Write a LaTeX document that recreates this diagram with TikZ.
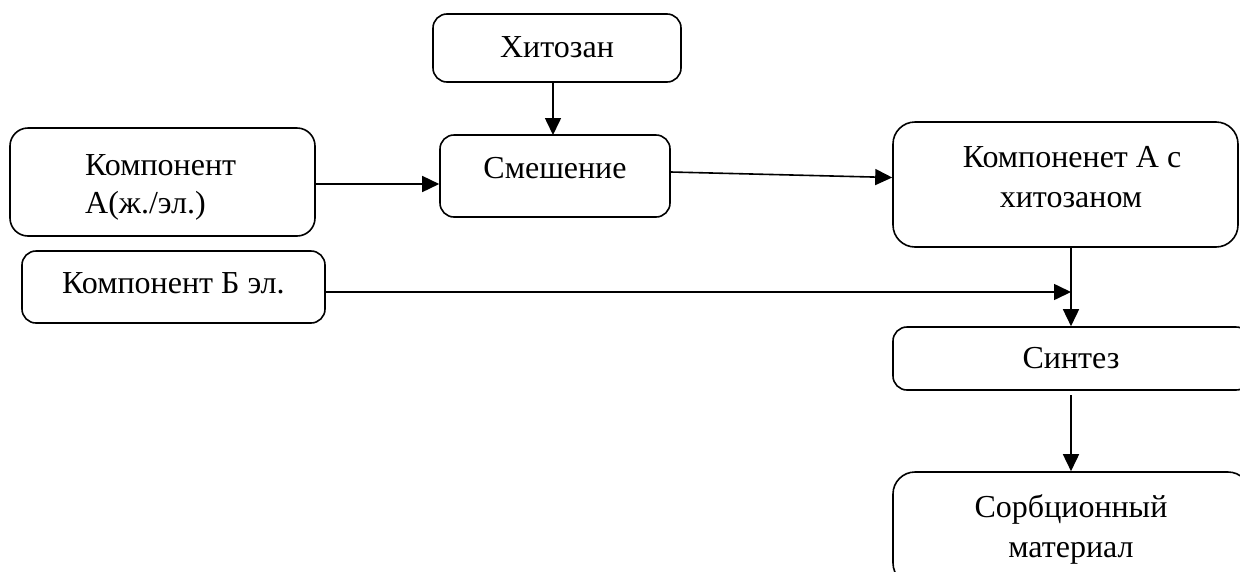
\documentclass[tikz,border=0pt]{standalone}
\usepackage{fontspec}
\setmainfont{Liberation Serif}
\usetikzlibrary{arrows.meta,calc}
\tikzset{
  box/.style={draw, line width=1.6pt, rounded corners=14pt, inner sep=0pt},
  bigbox/.style={box, rounded corners=22pt},
  txt/.style={anchor=base, inner sep=0pt, font=\fontsize{32}{38}\selectfont},
  ltxt/.style={anchor=base west, inner sep=0pt, font=\fontsize{32}{38}\selectfont},
  arr/.style={line width=1.6pt, -{Triangle[length=17pt,width=16pt]}},
  ln/.style={line width=1.6pt}
}
\begin{document}
\begin{tikzpicture}[x=1pt,y=-1pt]
\useasboundingbox (0,0) rectangle (1240,571);
\clip (0,0) rectangle (1240,571);
% boxes
\node[box, minimum width=248pt, minimum height=68pt] (hit) at (557,48) {};
\node[box, minimum width=230pt, minimum height=82pt] (smesh) at (555,176) {};
\node[box, rounded corners=18pt, minimum width=305pt, minimum height=108pt] (kA) at (162.5,182) {};
\node[box, minimum width=303pt, minimum height=72pt] (kB) at (173.5,287) {};
\node[bigbox, minimum width=345pt, minimum height=125pt] (kAh) at (1065.5,184.5) {};
\node[box, minimum width=357pt, minimum height=63pt] (sint) at (1071.5,358.5) {};
\node[bigbox, minimum width=357pt, minimum height=113pt] (sorb) at (1071.5,528.5) {};
% texts
\node[txt] (thit) at (557,57) {Хитозан};
\node[txt] (tsmesh) at (555,178) {Смешение};
\node[ltxt] (tkA1) at (85,175) {Компонент};
\node[ltxt] (tkA2) at (85,213) {А(ж./эл.)};
\node[ltxt] (tkB) at (62,293) {Компонент Б эл.};
\node[txt] (tkAh1) at (1072,167) {Компоненет А с};
\node[txt] (tkAh2) at (1071,207) {хитозаном};
\node[txt] (tsint) at (1071,368) {Синтез};
\node[txt] (tsorb1) at (1071,517) {Сорбционный};
\node[txt] (tsorb2) at (1071,557) {материал};
% connector points
\coordinate (j) at (1071,292);
\coordinate (kAhb) at (1071,247);
\coordinate (sintb) at (1071,395);
% connectors
\draw[arr] (553,82) -- (553,135);
\draw[arr] (kA.east |- 0,184) -- (smesh.west |- 0,184);
\draw[arr] ($(smesh.east)+(0,-4)$) -- ($(kAh.west)+(0,-7)$);
\draw[arr] (kB.east |- j) -- (j);
\draw[arr] (kAhb) -- (sint.north -| kAhb);
\draw[arr] (sintb) -- (sorb.north -| sintb);
\end{tikzpicture}
\end{document}
